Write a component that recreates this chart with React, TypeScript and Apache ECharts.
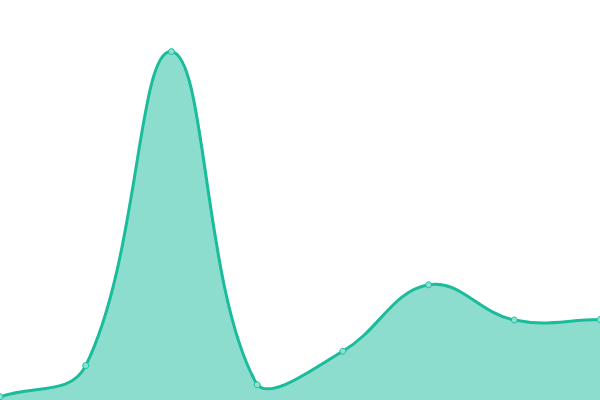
import React, { useEffect, useRef } from "react";
import * as echarts from "echarts";

const categories = ["1", "2", "3", "4", "5", "6", "7", "8"];
const values = [0.8, 8.6, 87.1, 3.8, 12.2, 28.8, 20, 20.1];

const TENSION = 0.4;

type Pt = [number, number];

// spline control points (distance-weighted cardinal spline)
function controlPoints(pts: Pt[], left: number, right: number, top: number, bottom: number) {
  const clampX = (x: number) => Math.min(Math.max(x, left), right);
  const clampY = (y: number) => Math.min(Math.max(y, top), bottom);
  return pts.map((cur, i) => {
    const prev = i > 0 ? pts[i - 1] : cur;
    const next = i < pts.length - 1 ? pts[i + 1] : cur;
    const d01 = Math.hypot(cur[0] - prev[0], cur[1] - prev[1]);
    const d12 = Math.hypot(next[0] - cur[0], next[1] - cur[1]);
    const s01 = d01 + d12 ? d01 / (d01 + d12) : 0;
    const s12 = d01 + d12 ? d12 / (d01 + d12) : 0;
    const fa = TENSION * s01;
    const fb = TENSION * s12;
    const vx = next[0] - prev[0];
    const vy = next[1] - prev[1];
    return {
      before: [clampX(cur[0] - fa * vx), clampY(cur[1] - fa * vy)] as Pt,
      after: [clampX(cur[0] + fb * vx), clampY(cur[1] + fb * vy)] as Pt,
    };
  });
}

const App: React.FC = () => {
  const chartRef = useRef<HTMLDivElement>(null);

  useEffect(() => {
    if (!chartRef.current) return;
    const chart = echarts.init(chartRef.current, undefined, { renderer: "svg" });

    chart.setOption({
      animation: false,
      grid: { left: 0, right: 0, top: 0, bottom: 0 },
      xAxis: {
        type: "category",
        data: categories,
        boundaryGap: false,
        show: false,
      },
      yAxis: { type: "value", min: 0, max: 100, show: false },
      series: [
        {
          type: "custom",
          data: values.map((v, i) => [i, v]),
          clip: false,
          z: 2,
          renderItem: (params: any, api: any) => {
            if (params.dataIndex !== 0) return null;
            const pts: Pt[] = values.map((v, i) => api.coord([i, v]));
            const cs = params.coordSys;
            const cps = controlPoints(pts, cs.x, cs.x + cs.width, cs.y, cs.y + cs.height);
            let line = `M${pts[0][0]},${pts[0][1]}`;
            for (let i = 1; i < pts.length; i++) {
              const a = cps[i - 1].after;
              const b = cps[i].before;
              line += ` C${a[0]},${a[1]} ${b[0]},${b[1]} ${pts[i][0]},${pts[i][1]}`;
            }
            const base = api.coord([0, 0])[1];
            const last = pts[pts.length - 1];
            const area = `${line} L${last[0]},${base} L${pts[0][0]},${base} Z`;
            return {
              type: "group",
              children: [
                {
                  type: "path",
                  shape: { pathData: area },
                  style: { fill: "rgba(26,188,156,0.5)", stroke: "none" },
                },
                {
                  type: "path",
                  shape: { pathData: line },
                  style: { fill: "none", stroke: "#1abc9c", lineWidth: 3 },
                },
              ],
            };
          },
        },
        {
          type: "scatter",
          data: values,
          z: 3,
          symbol: "circle",
          symbolSize: 6,
          itemStyle: {
            color: "#8ce0cf",
            borderColor: "#1abc9c",
            borderWidth: 1,
            opacity: 1,
          },
        },
      ],
    });

    return () => chart.dispose();
  }, []);

  return (
    <div
      ref={chartRef}
      style={{ position: "fixed", left: 0, top: 0, width: "600px", height: "400px" }}
    ></div>
  );
};

export default App;
